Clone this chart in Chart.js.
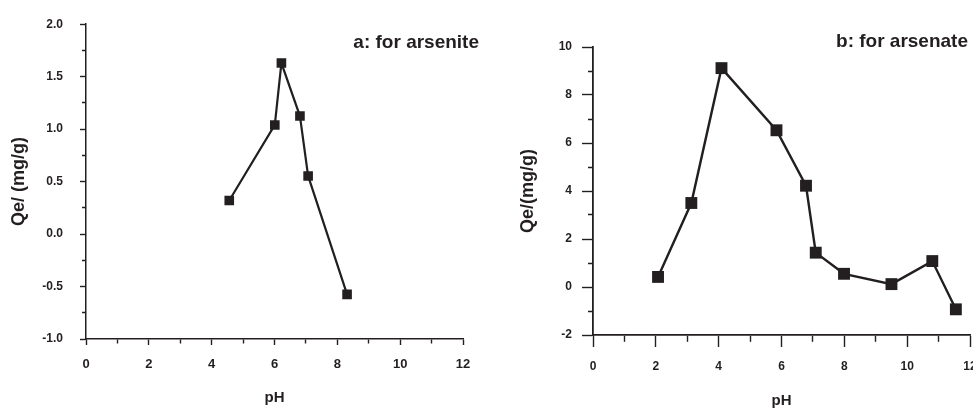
<!DOCTYPE html>
<html><head><meta charset="utf-8">
<script src="https://cdn.jsdelivr.net/npm/chart.js@4/dist/chart.umd.min.js"></script>
<style>
html,body{margin:0;padding:0;background:#fff;overflow:hidden;width:973px;height:411px;position:relative;}
#c1{position:absolute;left:0;top:0;}
#c2{position:absolute;left:490px;top:0;}
</style></head><body>
<canvas id="c1" width="490" height="411"></canvas>
<canvas id="c2" width="500" height="411"></canvas>
<script>
// ---- data ----
const arseniteLabel = 'a: for arsenite';
const arsenateLabel = 'b: for arsenate';
const xTitle = 'pH';
const arseniteYTitle = 'Qe/ (mg/g)';
const arsenateYTitle = 'Qe/(mg/g)';
const arsenitePH = [4.56, 6.01, 6.22, 6.81, 7.07, 8.31];
const arseniteQe = [0.32, 1.04, 1.63, 1.125, 0.554, -0.575];
const arsenatePH = [2.07, 3.13, 4.09, 5.84, 6.78, 7.09, 7.99, 9.50, 10.80, 11.55];
const arsenateQe = [0.42, 3.50, 9.12, 6.53, 4.22, 1.43, 0.55, 0.12, 1.08, -0.93];
const phTickLabels = [0, 2, 4, 6, 8, 10, 12];
const arseniteTickLabels = [-1.0, -0.5, 0.0, 0.5, 1.0, 1.5, 2.0];
const arsenateTickLabels = [-2, 0, 2, 4, 6, 8, 10];

const INK = '#231f20';
const FONT = '"Liberation Sans", Arial, Helvetica, sans-serif';
Chart.defaults.font.family = FONT;
Chart.defaults.color = INK;

const cornerTitle = {
  id: 'cornerTitle',
  afterDraw(chart, args, opts) {
    const c = chart.ctx;
    c.save();
    c.font = 'bold ' + opts.size + 'px ' + FONT;
    c.fillStyle = INK;
    c.textAlign = 'right';
    c.textBaseline = 'middle';
    c.fillText(opts.text, opts.x, opts.y);
    c.restore();
  }
};

function isMajor(v, list) {
  return list.some(t => Math.abs(t - v) < 1e-6);
}

function makeChart(el, o) {
  const pts = o.xs.map((x, i) => ({x: x, y: o.ys[i]}));
  return new Chart(document.getElementById(el), {
    type: 'scatter',
    data: { datasets: [{
      data: pts, showLine: true, borderColor: INK, borderWidth: o.lineW,
      pointStyle: 'rect', pointRadius: o.pr, pointBackgroundColor: INK,
      pointBorderWidth: 0, pointHoverRadius: o.pr
    }]},
    options: {
      responsive: false, animation: false, devicePixelRatio: 1,
      layout: { padding: { left: o.padL, top: o.padT, right: o.padR, bottom: 0 } },
      plugins: { legend: {display: false}, tooltip: {enabled: false},
        cornerTitle: { text: o.label, x: o.labelX, y: o.labelY, size: 19 } },
      scales: {
        x: {
          type: 'linear', position: 'bottom', min: 0, max: 12,
          afterFit: s => { s.height = o.xH; },
          border: { display: true, color: INK, width: o.axisW },
          grid: { drawOnChartArea: false, drawTicks: true, tickLength: o.xMajor,
            tickColor: INK, tickWidth: 1.4,
            tickBorderDash: ctx => isMajor(ctx.tick.value, phTickLabels) ? [] : [o.xMinor, 100] },
          ticks: { stepSize: 1, padding: o.xPad, color: INK, maxRotation: 0, autoSkip: false,
            font: { size: o.xFont, weight: 'bold' },
            callback: v => isMajor(v, phTickLabels) ? String(v) : '' },
          title: { display: true, text: xTitle, color: INK,
            font: { size: 15, weight: 'bold' }, padding: { top: 0, bottom: o.xTitlePB } }
        },
        y: {
          type: 'linear', position: 'left', min: o.ymin, max: o.ymax,
          afterFit: s => { s.width = o.yW; },
          border: { display: true, color: INK, width: o.axisW },
          grid: { drawOnChartArea: false, drawTicks: true, tickLength: o.yMajor,
            tickColor: INK, tickWidth: 1.4,
            tickBorderDash: ctx => isMajor(ctx.tick.value, o.yTicks) ? [] : [0, o.yMajor - o.yMinor, 100] },
          ticks: { stepSize: o.yStep, padding: o.yPad, color: INK, autoSkip: false,
            font: { size: 12, weight: 'bold' },
            callback: v => isMajor(v, o.yTicks) ? o.fmt(v) : '' },
          title: { display: true, text: o.yTitle, color: INK,
            font: { size: 18, weight: 'bold' }, padding: { top: 4, bottom: 0 } }
        }
      }
    },
    plugins: [cornerTitle]
  });
}

makeChart('c1', {
  xs: arsenitePH, ys: arseniteQe, ymin: -1, ymax: 2, yStep: 0.25,
  yTicks: arseniteTickLabels, fmt: v => v.toFixed(1),
  yTitle: arseniteYTitle, label: arseniteLabel, labelX: 479, labelY: 43,
  padL: 4, padT: 17, padR: 27, yW: 82, xH: 72, xFont: 13,
  xMajor: 6, xMinor: 4, yMajor: 6, yMinor: 4, xPad: 12, yPad: 17, xTitlePB: 4,
  axisW: 1.5, lineW: 2.2, pr: 6.8
});

makeChart('c2', {
  xs: arsenatePH, ys: arsenateQe, ymin: -2, ymax: 10, yStep: 1,
  yTicks: arsenateTickLabels, fmt: v => String(v),
  yTitle: arsenateYTitle, label: arsenateLabel, labelX: 478, labelY: 42,
  padL: 23, padT: 47, padR: 20, yW: 80, xH: 76, xFont: 12,
  xMajor: 12, xMinor: 6, yMajor: 11, yMinor: 5, xPad: 12, yPad: 10, xTitlePB: 1,
  axisW: 1.8, lineW: 2.4, pr: 8.4
});
</script>
</body></html>
